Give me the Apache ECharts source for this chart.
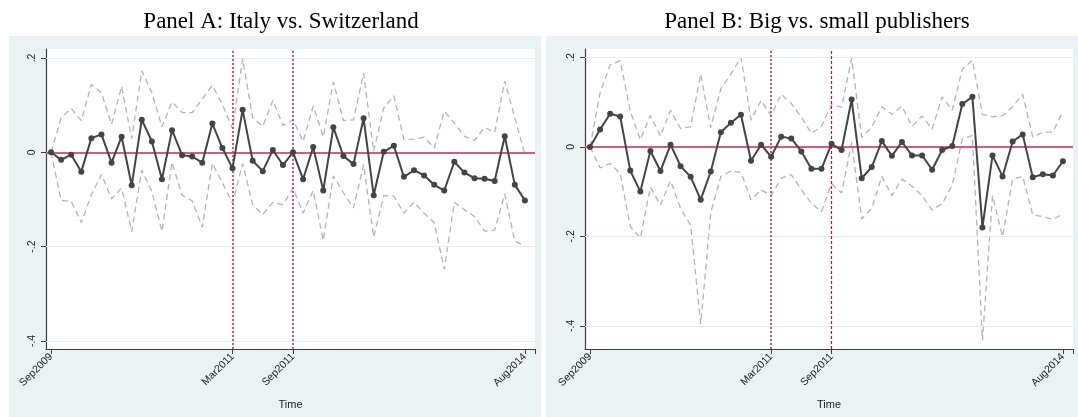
<!DOCTYPE html>
<html>
<head>
<meta charset="utf-8">
<script src="https://cdn.jsdelivr.net/npm/echarts@6/dist/echarts.min.js"></script>
<style>
  html, body { margin: 0; padding: 0; background: #fff; }
  #chart { width: 1078px; height: 417px; }
</style>
</head>
<body>
<div id="chart"></div>
<script>
// x positions are month indices; only these carry labels
const tickIdx = [0, 18, 24, 47];
const tickLabels = ['Sep2009', 'Mar2011', 'Sep2011', 'Aug2014'];
const yTicks = [-0.4, -0.2, 0, 0.2];
const gridTicks = [-0.4, -0.2, 0.2];
const eventIdx = [18, 24]; // Mar2011, Sep2011

// Panel A: Italy vs. Switzerland
const italyEst = [0, -0.016, -0.005, -0.041, 0.030, 0.038, -0.022, 0.033, -0.070, 0.069,
  0.023, -0.057, 0.047, -0.006, -0.009, -0.022, 0.061, 0.009, -0.034, 0.090,
  -0.018, -0.040, 0.005, -0.027, 0, -0.057, 0.011, -0.081, 0.053, -0.008,
  -0.025, 0.072, -0.091, 0.001, 0.014, -0.052, -0.038, -0.049, -0.069, -0.081,
  -0.020, -0.043, -0.055, -0.056, -0.061, 0.034, -0.069, -0.102];
const italyHi = [0, 0.073, 0.093, 0.067, 0.144, 0.126, 0.059, 0.140, 0.029, 0.173,
  0.126, 0.054, 0.107, 0.084, 0.084, 0.113, 0.142, 0.101, 0.050, 0.198,
  0.073, 0.055, 0.110, 0.057, 0.069, 0.023, 0.098, 0.033, 0.149, 0.067,
  0.069, 0.168, 0.002, 0.094, 0.120, 0.027, 0.028, 0.032, 0.009, 0.087,
  0.062, 0.034, 0.025, 0.053, 0.042, 0.151, 0.073, -0.005];
const italyLo = [0, -0.102, -0.104, -0.149, -0.090, -0.047, -0.099, -0.076, -0.168, -0.038,
  -0.083, -0.168, -0.021, -0.091, -0.103, -0.159, -0.023, -0.065, -0.108, -0.024,
  -0.111, -0.132, -0.106, -0.111, -0.076, -0.129, -0.081, -0.187, -0.050, -0.086,
  -0.118, -0.026, -0.180, -0.092, -0.093, -0.129, -0.106, -0.129, -0.149, -0.248,
  -0.106, -0.122, -0.136, -0.167, -0.165, -0.088, -0.189, -0.197];

// Panel B: Big vs. small publishers
const bigEst = [0, 0.039, 0.074, 0.068, -0.053, -0.100, -0.009, -0.054, 0.005, -0.043,
  -0.067, -0.118, -0.055, 0.033, 0.054, 0.072, -0.031, 0.005, -0.022, 0.023,
  0.019, -0.010, -0.049, -0.049, 0.007, -0.007, 0.106, -0.070, -0.045, 0.013,
  -0.020, 0.011, -0.019, -0.019, -0.051, -0.007, 0.002, 0.096, 0.112, -0.180,
  -0.019, -0.066, 0.012, 0.028, -0.068, -0.061, -0.064, -0.032];
const bigHi = [0, 0.121, 0.183, 0.193, 0.080, 0.016, 0.070, 0.024, 0.082, 0.041,
  0.045, 0.163, 0.043, 0.130, 0.163, 0.200, 0.060, 0.104, 0.070, 0.118,
  0.097, 0.067, 0.030, 0.046, 0.095, 0.089, 0.198, 0.022, 0.044, 0.090,
  0.073, 0.091, 0.046, 0.069, 0.040, 0.112, 0.082, 0.174, 0.194, 0.073,
  0.067, 0.070, 0.090, 0.118, 0.022, 0.033, 0.033, 0.080];
const bigLo = [0, -0.047, -0.037, -0.060, -0.178, -0.204, -0.090, -0.130, -0.075, -0.138,
  -0.175, -0.396, -0.147, -0.066, -0.054, -0.057, -0.118, -0.096, -0.109, -0.070,
  -0.062, -0.096, -0.126, -0.145, -0.082, -0.103, 0.010, -0.161, -0.137, -0.066,
  -0.109, -0.072, -0.088, -0.109, -0.141, -0.127, -0.085, 0.018, 0.025, -0.433,
  -0.109, -0.201, -0.072, -0.066, -0.152, -0.156, -0.162, -0.150];

const chart = echarts.init(document.getElementById('chart'));

const BG = '#eaf2f3';
const AXIS = '#3c3c3c';

function pairs(arr) {
  return arr.map((v, i) => [i, v]);
}

function fmtY(v) {
  if (Math.abs(v) < 1e-9) return '0';
  return String(+v.toFixed(1)).replace('0.', '.');
}

function xAxisFor(idx) {
  return {
    type: 'value', gridIndex: idx, min: -0.5, max: 48,
    name: 'Time', nameLocation: 'middle', nameGap: 50,
    nameTextStyle: { fontFamily: 'Liberation Sans', fontSize: 11, color: '#222' },
    axisLine: { onZero: false, lineStyle: { color: AXIS, width: 1.2 } },
    axisTick: { length: 5, customValues: tickIdx.concat([48]), lineStyle: { color: AXIS } },
    axisLabel: {
      customValues: tickIdx, rotate: 45, margin: 6,
      fontFamily: 'Liberation Sans', fontSize: 10.5, color: '#222',
      formatter: v => tickLabels[tickIdx.indexOf(Math.round(v))] || ''
    },
    splitLine: { show: false }
  };
}

function yAxisFor(idx, min) {
  return {
    type: 'value', gridIndex: idx, min: min, max: 0.219,
    axisLine: { show: true, onZero: false, lineStyle: { color: AXIS, width: 1.2 } },
    axisTick: { show: true, length: 5, customValues: yTicks, lineStyle: { color: AXIS } },
    axisLabel: {
      customValues: yTicks, rotate: 90, margin: 8,
      fontFamily: 'Liberation Sans', fontSize: 10.5, color: '#222',
      formatter: fmtY
    },
    splitLine: { show: false }
  };
}

function panelSeries(idx, est, hi, lo, eventColors) {
  const ci = {
    type: 'line', xAxisIndex: idx, yAxisIndex: idx, symbol: 'none', silent: true,
    lineStyle: { color: '#b3b3b3', width: 1.3, type: [6, 4] }, z: 3
  };
  return [
    {
      type: 'line', xAxisIndex: idx, yAxisIndex: idx, data: [], z: 1, silent: true,
      markLine: {
        symbol: 'none', silent: true, label: { show: false },
        lineStyle: { color: '#e4ecee', width: 1, type: 'solid' },
        data: gridTicks.map(t => ({ yAxis: t }))
      }
    },
    Object.assign({}, ci, { data: pairs(hi) }),
    Object.assign({}, ci, { data: pairs(lo) }),
    {
      type: 'line', xAxisIndex: idx, yAxisIndex: idx, data: [], z: 4, silent: true,
      markLine: {
        symbol: 'none', silent: true, label: { show: false },
        data: [
          { yAxis: 0, lineStyle: { color: '#dc5a78', width: 2, type: 'solid' } }
        ].concat(eventIdx.map((e, k) => ({
          xAxis: e,
          lineStyle: eventColors[k]
        })))
      }
    },
    {
      type: 'line', xAxisIndex: idx, yAxisIndex: idx, data: pairs(est), z: 5,
      symbol: 'circle', symbolSize: 6,
      itemStyle: { color: '#444' },
      lineStyle: { color: '#444', width: 2 }
    }
  ];
}

const dotted = { color: '#e0386a', width: 1.8, type: [2, 2] };
const darkDash = { color: '#c0102c', width: 1.2, type: [3, 2] };

const titleStyle = { fontFamily: 'Liberation Serif', fontSize: 23, fontWeight: 'normal', color: '#000' };

const option = {
  animation: false,
  title: [
    { text: 'Panel A: Italy vs. Switzerland', left: 276, top: 5, textAlign: 'center', textStyle: titleStyle },
    { text: 'Panel B: Big vs. small publishers', left: 812, top: 5, textAlign: 'center', textStyle: titleStyle }
  ],
  graphic: [
    { type: 'rect', z: -10, shape: { x: 9, y: 36, width: 532, height: 381 }, style: { fill: BG } },
    { type: 'rect', z: -10, shape: { x: 546, y: 36, width: 532, height: 381 }, style: { fill: BG } }
  ],
  grid: [
    { left: 46, right: 543, top: 49, bottom: 68, show: true, backgroundColor: '#fff', borderWidth: 0 },
    { left: 585, right: 5, top: 49, bottom: 68, show: true, backgroundColor: '#fff', borderWidth: 0 }
  ],
  xAxis: [xAxisFor(0), xAxisFor(1)],
  yAxis: [yAxisFor(0, -0.417), yAxisFor(1, -0.452)],
  series: panelSeries(0, italyEst, italyHi, italyLo, [dotted, dotted])
    .concat(panelSeries(1, bigEst, bigHi, bigLo, [dotted, darkDash]))
};

chart.setOption(option);
</script>
</body>
</html>
